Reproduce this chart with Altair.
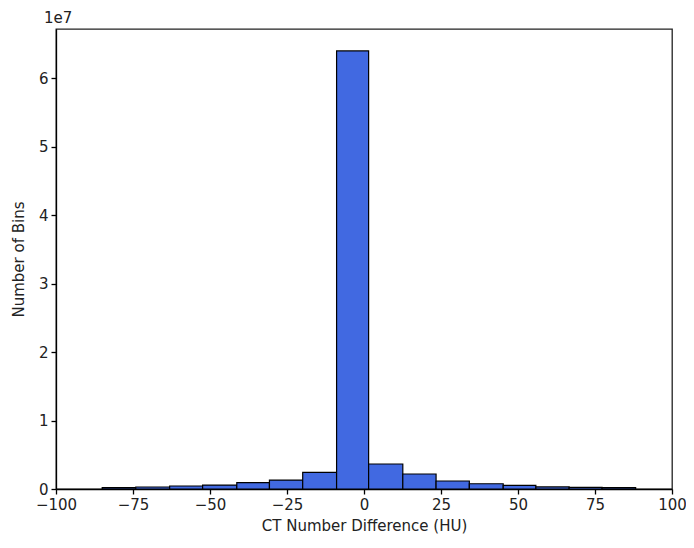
import altair as alt
import pandas as pd

bin_edges = [-85.0, -74.1, -63.1, -52.4, -41.3, -30.7, -19.9, -8.9, 1.5,
             12.6, 23.4, 34.2, 45.2, 55.8, 66.6, 77.3, 88.2]
counts = [0.019e7, 0.029e7, 0.044e7, 0.058e7, 0.092e7, 0.131e7, 0.244e7, 6.40e7,
          0.365e7, 0.219e7, 0.117e7, 0.077e7, 0.054e7, 0.030e7, 0.025e7, 0.020e7]
x_ticks = [-100, -75, -50, -25, 0, 25, 50, 75, 100]
y_ticks = [0, 1e7, 2e7, 3e7, 4e7, 5e7, 6e7]

df = pd.DataFrame({
    "start": bin_edges[:-1],
    "end": bin_edges[1:],
    "count": counts,
})

FONT = "DejaVu Sans"

bars = alt.Chart(df).mark_rect(
    fill="#4169E1", stroke="black", strokeWidth=1.2
).encode(
    x=alt.X("start:Q",
            scale=alt.Scale(domain=[-100, 100], nice=False, zero=False),
            axis=alt.Axis(values=x_ticks, title="CT Number Difference (HU)",
                          labelExpr="replace(format(datum.value, 'd'), '-', '\u2212')",
                          grid=False, tickSize=5, tickColor="black",
                          domainColor="black", labelPadding=3,
                          titlePadding=6, labelFlush=False, labelOverlap=False)),
    x2="end:Q",
    y=alt.Y("count:Q",
            scale=alt.Scale(domain=[0, 6.72e7], nice=False),
            axis=alt.Axis(values=y_ticks, title="Number of Bins",
                          labelExpr="format(datum.value / 1e7, 'd')",
                          grid=False, tickSize=5, tickColor="black",
                          domainColor="black", labelPadding=3,
                          titlePadding=12, labelOverlap=False)),
    y2=alt.datum(0),
)

exp = alt.Chart(pd.DataFrame({"t": ["1e7"]})).mark_text(
    align="left", baseline="bottom", font=FONT, fontSize=15, color="#222"
).encode(
    x=alt.value(-12), y=alt.value(-3), text="t:N"
)

chart = alt.layer(bars, exp).properties(
    width=616, height=460,
    autosize=alt.AutoSizeParams(type="none"),
    padding={"left": 48, "top": 21, "right": 14, "bottom": 51},
).configure_view(
    stroke="#222", strokeWidth=1.3
).configure_axis(
    labelFont=FONT, titleFont=FONT, labelFontSize=15, titleFontSize=15,
    labelColor="#222", titleColor="#222", titleFontWeight="normal",
    domainWidth=1.3, tickWidth=1.3
)

chart.save("out.html", embed_options={"renderer": "svg", "actions": False})
